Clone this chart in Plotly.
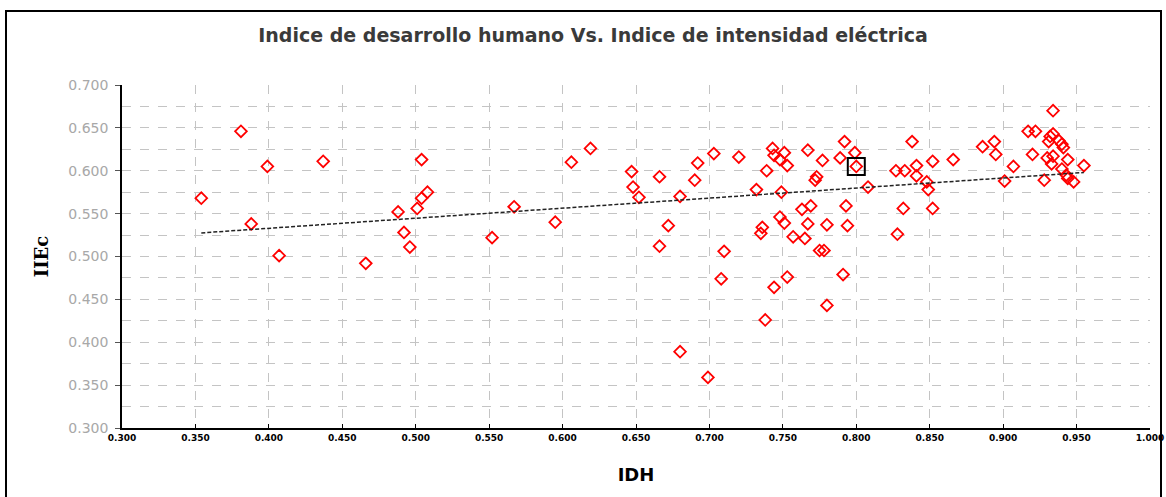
import plotly.graph_objects as go

# IDH (x) and IIEc (y) values
idh = [
    0.354, 0.381, 0.399, 0.437, 0.388, 0.407, 0.466, 0.504, 0.508, 0.504,
    0.501, 0.488, 0.492, 0.496, 0.552, 0.567, 0.595, 0.606, 0.619, 0.647,
    0.648, 0.652, 0.666, 0.672, 0.666, 0.680, 0.690, 0.692, 0.703, 0.680,
    0.699, 0.710, 0.708, 0.753, 0.744, 0.791, 0.780, 0.738, 0.828, 0.720,
    0.743, 0.744, 0.751, 0.748, 0.753, 0.739, 0.767, 0.777, 0.773, 0.772,
    0.792, 0.799, 0.789, 0.800, 0.808, 0.732, 0.749, 0.763, 0.769, 0.793,
    0.748, 0.751, 0.767, 0.780, 0.794, 0.736, 0.735, 0.757, 0.765, 0.775,
    0.778, 0.827,
    0.934, 0.917, 0.922, 0.932, 0.934, 0.938, 0.931, 0.940, 0.941, 0.838,
    0.894, 0.886, 0.895, 0.920, 0.852, 0.866, 0.930, 0.934, 0.944, 0.933,
    0.955, 0.841, 0.833, 0.907, 0.841, 0.940, 0.943, 0.944, 0.948, 0.928,
    0.901, 0.848, 0.849, 0.832, 0.852,
]
iiec = [
    0.568, 0.646, 0.605, 0.611, 0.538, 0.501, 0.492, 0.613, 0.575, 0.568,
    0.556, 0.552, 0.528, 0.511, 0.522, 0.558, 0.540, 0.610, 0.626, 0.599,
    0.581, 0.569, 0.593, 0.536, 0.512, 0.570, 0.589, 0.609, 0.620, 0.389,
    0.359, 0.506, 0.474, 0.476, 0.464, 0.479, 0.443, 0.426, 0.526, 0.616,
    0.626, 0.618, 0.621, 0.613, 0.606, 0.600, 0.624, 0.612, 0.593, 0.589,
    0.634, 0.621, 0.615, 0.605, 0.581, 0.578, 0.575, 0.555, 0.559, 0.559,
    0.546, 0.539, 0.538, 0.537, 0.536, 0.534, 0.527, 0.523, 0.521, 0.507,
    0.507, 0.600,
    0.670, 0.646, 0.646, 0.640, 0.643, 0.635, 0.634, 0.631, 0.627, 0.634,
    0.634, 0.628, 0.619, 0.619, 0.611, 0.613, 0.615, 0.617, 0.613, 0.608,
    0.606, 0.606, 0.600, 0.605, 0.594, 0.602, 0.595, 0.591, 0.587, 0.589,
    0.588, 0.587, 0.578, 0.556, 0.556,
]

# Trend line end points
trend_x = [0.354, 0.955]
trend_y = [0.5275, 0.598]

# Highlighted country
mark_x = [0.800]
mark_y = [0.605]

x_ticks = [0.300, 0.350, 0.400, 0.450, 0.500, 0.550, 0.600, 0.650,
           0.700, 0.750, 0.800, 0.850, 0.900, 0.950, 1.000]
y_ticks = [0.300, 0.350, 0.400, 0.450, 0.500, 0.550, 0.600, 0.650, 0.700]

fig = go.Figure()
fig.add_trace(go.Scatter(
    x=idh, y=iiec, mode="markers",
    marker=dict(symbol="diamond-open", size=9, color="#ff0000",
                line=dict(width=1.8, color="#ff0000")),
    showlegend=False, cliponaxis=False,
))
fig.add_trace(go.Scatter(
    x=trend_x, y=trend_y, mode="lines",
    line=dict(color="#222222", width=1.5, dash="4px,2px"),
    showlegend=False,
))
fig.add_trace(go.Scatter(
    x=mark_x, y=mark_y, mode="markers",
    marker=dict(symbol="square-open", size=17, color="#000000",
                line=dict(width=2, color="#000000")),
    showlegend=False,
))

W, H = 1166, 497
L, R, T, B = 122, 16, 85, 69
PW, PH = W - L - R, H - T - B

grid_col = "#c4c4c4"
fig.update_layout(
    width=W, height=H,
    margin=dict(l=L, r=R, t=T, b=B, autoexpand=False),
    paper_bgcolor="white", plot_bgcolor="white",
    title=dict(
        text="Indice de desarrollo humano Vs. Indice de intensidad eléctrica",
        x=593 / W, xanchor="center", y=1 - 35 / H, yanchor="middle",
        font=dict(family="DejaVu Sans", size=19, color="#3a3a3a", weight="bold"),
    ),
    xaxis=dict(
        range=[0.3, 1.0], tickvals=x_ticks, tickformat=".3f",
        automargin=False,
        showline=True, linecolor="#000000", linewidth=1.5,
        ticks="inside", ticklen=4, tickcolor="#000000",
        tickfont=dict(family="DejaVu Sans", size=9, color="#000000", weight="bold"),
        showgrid=True, gridcolor=grid_col, griddash="dash", gridwidth=1,
        zeroline=False,
        title=dict(text="IDH", standoff=27,
                   font=dict(family="DejaVu Sans", size=18, color="#000000", weight="bold")),
    ),
    yaxis=dict(
        range=[0.3, 0.7], tickvals=y_ticks, tickformat=".3f",
        automargin=False,
        showline=True, linecolor="#000000", linewidth=1.5,
        ticks="outside", ticklen=5, tickcolor="#555555",
        ticklabelstandoff=4,
        tickfont=dict(family="DejaVu Sans", size=14, color="#a8a8a8"),
        showgrid=True, gridcolor=grid_col, griddash="dash", gridwidth=1,
        minor=dict(dtick=0.025, tick0=0.3, showgrid=True, gridcolor=grid_col,
                   griddash="dash", gridwidth=1),
        zeroline=False,
        title=dict(text="IIEc", standoff=15,
                   font=dict(family="DejaVu Serif", size=18, color="#000000", weight="bold")),
    ),
    shapes=[dict(type="rect", xref="paper", yref="paper",
                 x0=(6 - L) / PW, x1=(1161 - L) / PW,
                 y0=-(H + 10 - (T + PH)) / PH, y1=1 + (T - 11) / PH,
                 line=dict(color="#000000", width=2))],
)

fig.write_html("out.html",
               config={"displayModeBar": False},
               post_script="document.body.style.margin='0px';document.body.style.overflow='hidden';")
